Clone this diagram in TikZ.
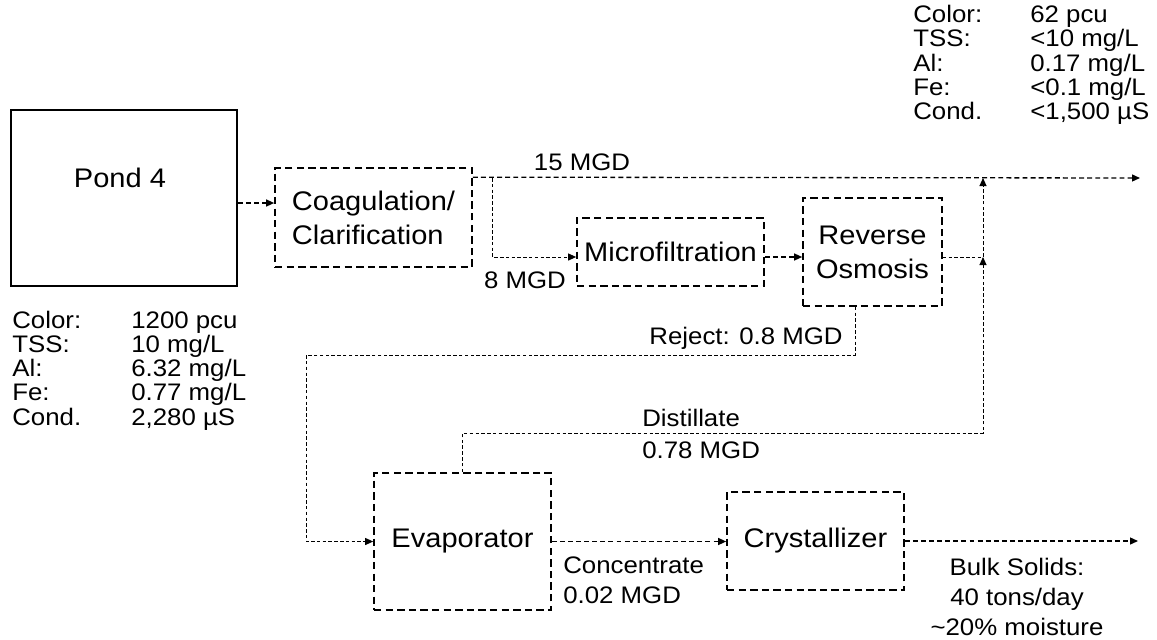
\documentclass[tikz,border=0pt]{standalone}
\usepackage{fontspec}
\setmainfont{Liberation Sans}[FakeStretch=1.08]
\usepackage{tikz}
\usetikzlibrary{arrows.meta}
\tikzset{
  myunit/.style={draw, rectangle, inner sep=0pt, line width=0.95pt, dash pattern=on 4.2pt off 2.4pt, font=\fontsize{15.3pt}{19.3pt}\selectfont},
  myflow/.style={line width=0.75pt, dash pattern=on 2.8pt off 1.8pt, -{Triangle[length=1.6mm,width=1.4mm]}},
  mythinflow/.style={myflow, line width=0.55pt, dash pattern=on 2pt off 1.3pt},
  mytext/.style={inner sep=0pt, font=\fontsize{13.6pt}{17.2pt}\selectfont},
  mystats/.style={inner sep=0pt, anchor=west, font=\fontsize{13.6pt}{13.1pt}\selectfont},
}

\begin{document}
\begin{tikzpicture}%
\useasboundingbox (0,0) rectangle (23.14,-12.78);%
% units
\node[draw, line width=1pt, inner sep=0pt, minimum width=4.52cm, minimum height=3.52cm, label={[inner sep=0pt, font=\fontsize{15.3pt}{19.3pt}\selectfont, xshift=-0.08cm, yshift=0.4cm]center:Pond 4}] (pond) at (2.48,-3.96) {};%
\node[myunit, align=left, minimum width=3.94cm, minimum height=1.98cm] (coag) at (7.47,-4.35) {Coagulation/\\Clarification};%
\node[myunit, minimum width=3.74cm, minimum height=1.36cm] (mf) at (13.41,-5.04) {Microfiltration};%
\node[myunit, align=center, minimum width=2.78cm, minimum height=2.16cm] (ro) at (17.45,-5.04) {Reverse\\Osmosis};%
\node[myunit, minimum width=3.54cm, minimum height=2.74cm] (evap) at (9.25,-10.83) {Evaporator};%
\node[myunit, minimum width=3.54cm, minimum height=1.96cm] (cryst) at (16.31,-10.82) {Crystallizer};%
% water quality
\node[mystats] (rawstats) at (0.24,-7.43) {\begin{tabular}{@{}p{2.38cm}@{}l@{}}Color: & 1200 pcu\\ TSS: & 10 mg/L\\ Al: & 6.32 mg/L\\ Fe: & 0.77 mg/L\\ Cond. & 2,280 µS\end{tabular}};%
\node[mystats] (outstats) at (18.26,-1.32) {\begin{tabular}{@{}p{2.34cm}@{}l@{}}Color: & 62 pcu\\ TSS: & <10 mg/L\\ Al: & 0.17 mg/L\\ Fe: & <0.1 mg/L\\ Cond. & <1,500 µS\end{tabular}};%
% flow points
\coordinate (treated) at (22.8,-3.56);%
\coordinate (split) at (9.84,-3.56);%
\coordinate (join) at (19.66,-3.56);%
\coordinate (rojoin) at (19.66,-5.14);%
\coordinate (distturn) at (19.66,-8.66);%
\coordinate (rejturn) at (6.12,-7.1);%
\coordinate (solids) at (22.76,-10.8);%
% flows
\draw[myflow] ([yshift=-0.1cm]pond.east) -- ([yshift=-0.1cm]pond.east -| coag.west);%
\draw[myflow] ([yshift=-0.2cm]coag.north east) -- (treated);%
\draw[mythinflow] (split) |- ([yshift=-0.1cm]mf.west);%
\draw[myflow] ([yshift=-0.1cm]mf.east) -- ([yshift=-0.1cm]mf.east -| ro.west);%
\draw[mythinflow] ([yshift=-0.1cm]ro.east) -| (join);%
\draw[mythinflow] ([xshift=-0.35cm]ro.south) |- (rejturn) |- (evap.west);%
\draw[mythinflow] (evap.north) |- (distturn) -- (rojoin);%
\draw[myflow] (evap.east) -- (evap.east -| cryst.west);%
\draw[myflow] (cryst.east) -- (cryst.east -| solids);%
% flow labels
\node[mytext] (q15) at (11.64,-3.24) {15 MGD};%
\node[mytext] (q8) at (10.5,-5.6) {8 MGD};%
\node[mytext, anchor=east] (qrej) at (16.86,-6.76) {Reject: 0.8 MGD};%
\node[mytext, anchor=west, align=left, font=\fontsize{13.6pt}{18.2pt}\selectfont] (qdist) at (12.84,-8.68) {Distillate\\0.78 MGD};%
\node[mytext, anchor=west, align=left] (qconc) at (11.26,-11.6) {Concentrate\\0.02 MGD};%
\node[mytext, align=center] (qsolids) at (20.34,-11.94) {Bulk Solids:\\40 tons/day\\\textasciitilde20\% moisture};%
\end{tikzpicture}
\end{document}
